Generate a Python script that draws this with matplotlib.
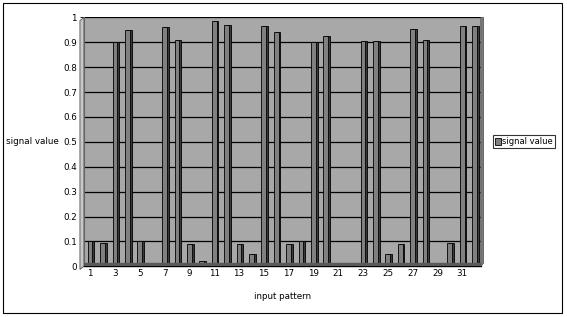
import matplotlib
matplotlib.use("Agg")
import matplotlib.pyplot as plt
from matplotlib.patches import Rectangle, Polygon

# signal value for each input pattern
patterns = list(range(1, 33))
values = [0.10, 0.095, 0.90, 0.95, 0.10, 0.01, 0.96, 0.91,
          0.09, 0.02, 0.985, 0.97, 0.09, 0.05, 0.965, 0.94,
          0.09, 0.10, 0.90, 0.925, 0.005, 0.01, 0.905, 0.905,
          0.05, 0.09, 0.955, 0.91, 0.005, 0.095, 0.965, 0.965]
xtick_labels = [str(i) for i in range(1, 33, 2)]
yticks = [0, 0.1, 0.2, 0.3, 0.4, 0.5, 0.6, 0.7, 0.8, 0.9, 1]

fig = plt.figure(figsize=(5.67, 3.17), dpi=100)
fig.patch.set_facecolor("white")
# outer frame
fig.add_artist(Rectangle((0.006, 0.013), 0.986, 0.978, transform=fig.transFigure,
                         fill=False, edgecolor="black", linewidth=0.8))

ax = fig.add_axes([0.148, 0.16, 0.70, 0.785])
ax.set_facecolor("#a8a8a8")
ax.set_xlim(0.5, 32.5)
ax.set_ylim(0, 1)

for y in yticks[1:]:
    ax.axhline(y, color="black", linewidth=0.9, zorder=1)

# side face (fake 3d depth) then front face
w = 0.38
ax.bar([p + 0.15 for p in patterns], values, width=w, color="#3a3a3a",
       edgecolor="black", linewidth=0.6, zorder=2)
ax.bar(patterns, values, width=w, color="#808080", edgecolor="black",
       linewidth=0.6, zorder=3, label="signal value")

# floor
ax.axhspan(0, 0.012, color="#5a5a5a", zorder=4)

ax.set_xticks(list(range(1, 33, 2)))
ax.set_xticklabels(xtick_labels)
ax.set_yticks(yticks)
ax.set_yticklabels(["0", "0.1", "0.2", "0.3", "0.4", "0.5", "0.6", "0.7", "0.8", "0.9", "1"])
ax.tick_params(axis="both", labelsize=6.3, length=3, width=0.6, pad=2)
ax.tick_params(axis="x", length=0)
for s in ["top", "right"]:
    ax.spines[s].set_visible(False)
ax.spines["bottom"].set_linewidth(1.0)
ax.spines["left"].set_color("#707070")

# left side wall of the 3d box
fig.add_artist(Polygon([(0.141, 0.15), (0.148, 0.16), (0.148, 0.945), (0.141, 0.935)],
                       closed=True, transform=fig.transFigure,
                       facecolor="#c8c8c8", edgecolor="#505050", linewidth=0.6))
# right side shading of the box
fig.add_artist(Polygon([(0.848, 0.16), (0.853, 0.17), (0.853, 0.945), (0.848, 0.945)],
                       closed=True, transform=fig.transFigure,
                       facecolor="#7a7a7a", edgecolor="#505050", linewidth=0.5))

ax.set_xlabel("input pattern", fontsize=6.3, labelpad=10)
ax.set_ylabel("signal value", fontsize=6.3, rotation=0, labelpad=22, va="center")

leg = ax.legend(loc="center left", bbox_to_anchor=(1.03, 0.5), fontsize=6.0,
                frameon=True, fancybox=False, handlelength=0.7, handleheight=0.8,
                handletextpad=0.2, borderpad=0.25, borderaxespad=0)
leg.get_frame().set_edgecolor("black")
leg.get_frame().set_linewidth(0.8)

fig.savefig("out.png", dpi=100)
